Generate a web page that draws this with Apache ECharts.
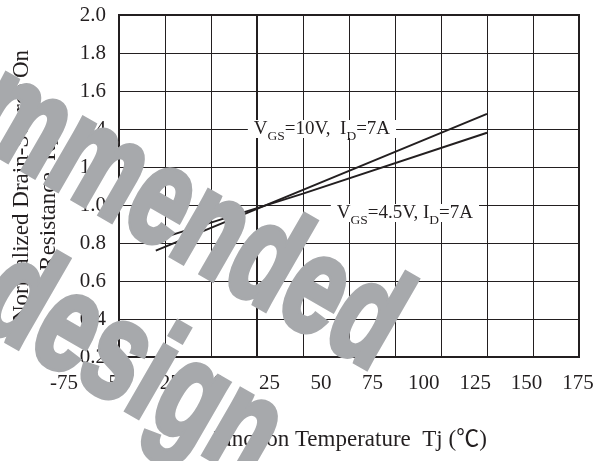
<!DOCTYPE html>
<html>
<head>
<meta charset="utf-8">
<script src="https://cdn.jsdelivr.net/npm/echarts@6/dist/echarts.min.js"></script>
<style>
  html, body { margin: 0; padding: 0; background: #fff; }
  #chart { width: 608px; height: 461px; }
</style>
</head>
<body>
<div id="chart"></div>
<script>
// Normalized on-resistance versus junction temperature, two gate drives
const tempVgs10 = [-55, 25, 125];
const rdsVgs10 = [0.76, 1.08, 1.48];
const tempVgs45 = [-57, 25, 125];
const rdsVgs45 = [0.81, 1.06, 1.38];

// Axis ranges and tick steps
const xRange = [-75, 175];
const xStep = 25;
const yRange = [0.2, 2.0];
const yStep = 0.2;

// Curve annotations: [plain, subscript, plain, subscript, plain]
const labelVgs10 = ['V', 'GS', '=10V,  I', 'D', '=7A'];
const labelVgs45 = ['V', 'GS', '=4.5V, I', 'D', '=7A'];

// Stamp text laid over the whole graph
const stampLines = ['Not recommended', 'for new design'];

const ink = '#231f20';
const serif = '"Liberation Serif", "Times New Roman", "Noto Sans CJK SC", serif';

const chart = echarts.init(document.getElementById('chart'), null, { renderer: 'canvas' });

function pairs(xs, ys) { return xs.map((x, i) => [x, ys[i]]); }

chart.setOption({
  animation: false,
  backgroundColor: '#fff',
  grid: [
    // plotting frame
    {
      left: 119, right: 29, top: 15, bottom: 104,
      show: true, borderColor: ink, borderWidth: 2, backgroundColor: 'transparent'
    },
    // the temperature scale row is printed on a slightly wider span than the frame
    { left: 64, right: 30, top: 15, bottom: 104, show: false }
  ],
  xAxis: [
    {
      gridIndex: 0, type: 'value', min: xRange[0], max: xRange[1], interval: xStep,
      name: 'Junction Temperature  Tj (℃)',
      nameLocation: 'middle', nameGap: 71,
      nameTextStyle: { fontFamily: serif, fontSize: 23, color: ink },
      axisLine: { show: true, lineStyle: { color: ink, width: 2 } },
      axisTick: { show: false },
      axisLabel: { show: false },
      splitLine: { show: true, lineStyle: { color: ink, width: 1 } }
    },
    {
      gridIndex: 1, type: 'value', min: xRange[0], max: xRange[1], interval: xStep,
      axisLine: { show: false },
      axisTick: { show: false },
      splitLine: { show: false },
      axisLabel: { fontFamily: serif, fontSize: 21, color: ink, margin: 16 }
    }
  ],
  yAxis: [
    {
      gridIndex: 0, type: 'value', min: yRange[0], max: yRange[1], interval: yStep,
      name: 'Normalized Drain-Source On\nResistance  R{sub|DS(on)}',
      nameLocation: 'middle', nameGap: 57, nameRotate: 90,
      nameTextStyle: {
        fontFamily: serif, fontSize: 23, color: ink, lineHeight: 27,
        rich: { sub: { fontFamily: serif, fontSize: 15, color: ink, lineHeight: 14, verticalAlign: 'bottom' } }
      },
      axisLine: { show: true, lineStyle: { color: ink, width: 2 } },
      axisTick: { show: false },
      axisLabel: {
        fontFamily: serif, fontSize: 21, color: ink, margin: 13,
        formatter: v => v.toFixed(1)
      },
      splitLine: { show: true, lineStyle: { color: ink, width: 1 } }
    },
    { gridIndex: 1, type: 'value', min: yRange[0], max: yRange[1], show: false }
  ],
  series: [
    {
      name: 'VGS=10V', type: 'line', xAxisIndex: 0, yAxisIndex: 0,
      data: pairs(tempVgs10, rdsVgs10),
      showSymbol: false, lineStyle: { color: ink, width: 2 }, z: 3
    },
    {
      name: 'VGS=4.5V', type: 'line', xAxisIndex: 0, yAxisIndex: 0,
      data: pairs(tempVgs45, rdsVgs45),
      showSymbol: false, lineStyle: { color: ink, width: 2 }, z: 3
    }
  ]
});

// Rich-text label with subscripts on a white box
function curveLabel(parts, at) {
  const p = chart.convertToPixel({ gridIndex: 0 }, at);
  const text = parts.map((t, i) => (i % 2 ? '{s|' + t + '}' : '{m|' + t + '}')).join('');
  return {
    type: 'text', x: p[0], y: p[1], z: 50, silent: true,
    style: {
      text: text, align: 'center', verticalAlign: 'middle',
      backgroundColor: '#fff', padding: [0, 6, 0, 6],
      rich: {
        m: { fontFamily: serif, fontSize: 19, lineHeight: 18, verticalAlign: 'top', fill: ink },
        s: { fontFamily: serif, fontSize: 13.5, lineHeight: 8, padding: [10, 0, 0, 0], verticalAlign: 'top', fill: ink }
      }
    }
  };
}

// Grey condensed stamp lettering, right-aligned at the end of each line
function stampLine(text, x, y) {
  return {
    type: 'text', x: x, y: y, rotation: -Math.PI / 6, scaleX: 0.715, scaleY: 1,
    z: 100, silent: true,
    style: {
      text: text,
      fontFamily: '"Liberation Sans", Arial, sans-serif',
      fontWeight: 'bold', fontSize: 140, fill: '#a7a9ac',
      stroke: '#a7a9ac', lineWidth: 6, lineJoin: 'miter',
      align: 'right', verticalAlign: 'middle'
    }
  };
}

chart.setOption({
  graphic: [
    curveLabel(labelVgs10, [35.3, 1.4]),
    curveLabel(labelVgs45, [80.4, 0.958]),
    stampLine(stampLines[0], 392, 338),
    stampLine(stampLines[1], 270, 448)
  ]
});
</script>
</body>
</html>
